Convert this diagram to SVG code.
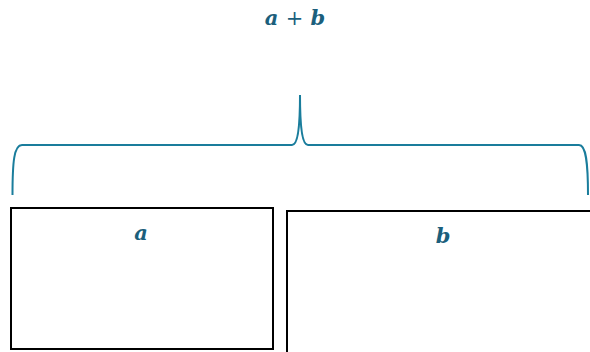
<svg xmlns="http://www.w3.org/2000/svg" width="590" height="352" viewBox="0 0 590 352">
<style>
.lbl{font-family:"DejaVu Serif",serif;font-weight:bold;font-style:italic;font-size:21px;fill:#1b5f7c;text-anchor:middle}
.op{font-style:normal;font-weight:normal}
.box{fill:#fff;stroke:#000;stroke-width:2}
.brace{fill:none;stroke:#1a7d9c;stroke-width:2}
</style>
<rect width="590" height="352" fill="#fff"/>
<g id="sum"><text class="lbl" x="295" y="25" word-spacing="0">a <tspan class="op">+</tspan> b</text></g>
<g id="connectors">
<path class="brace" d="M12.5,195 C12.5,162 14,145 22,145 L292,145 C297,145 300,132 300,95 C300,132 303,145 308,145 L579,145 C586,145 588,162 588,195"/>
</g>
<g id="boxA"><rect class="box" x="11" y="208" width="262" height="141"/><text class="lbl" x="141" y="240">a</text></g>
<g id="boxB"><rect class="box" x="287" y="211" width="310" height="145"/><text class="lbl" x="443" y="243">b</text></g>
</svg>
